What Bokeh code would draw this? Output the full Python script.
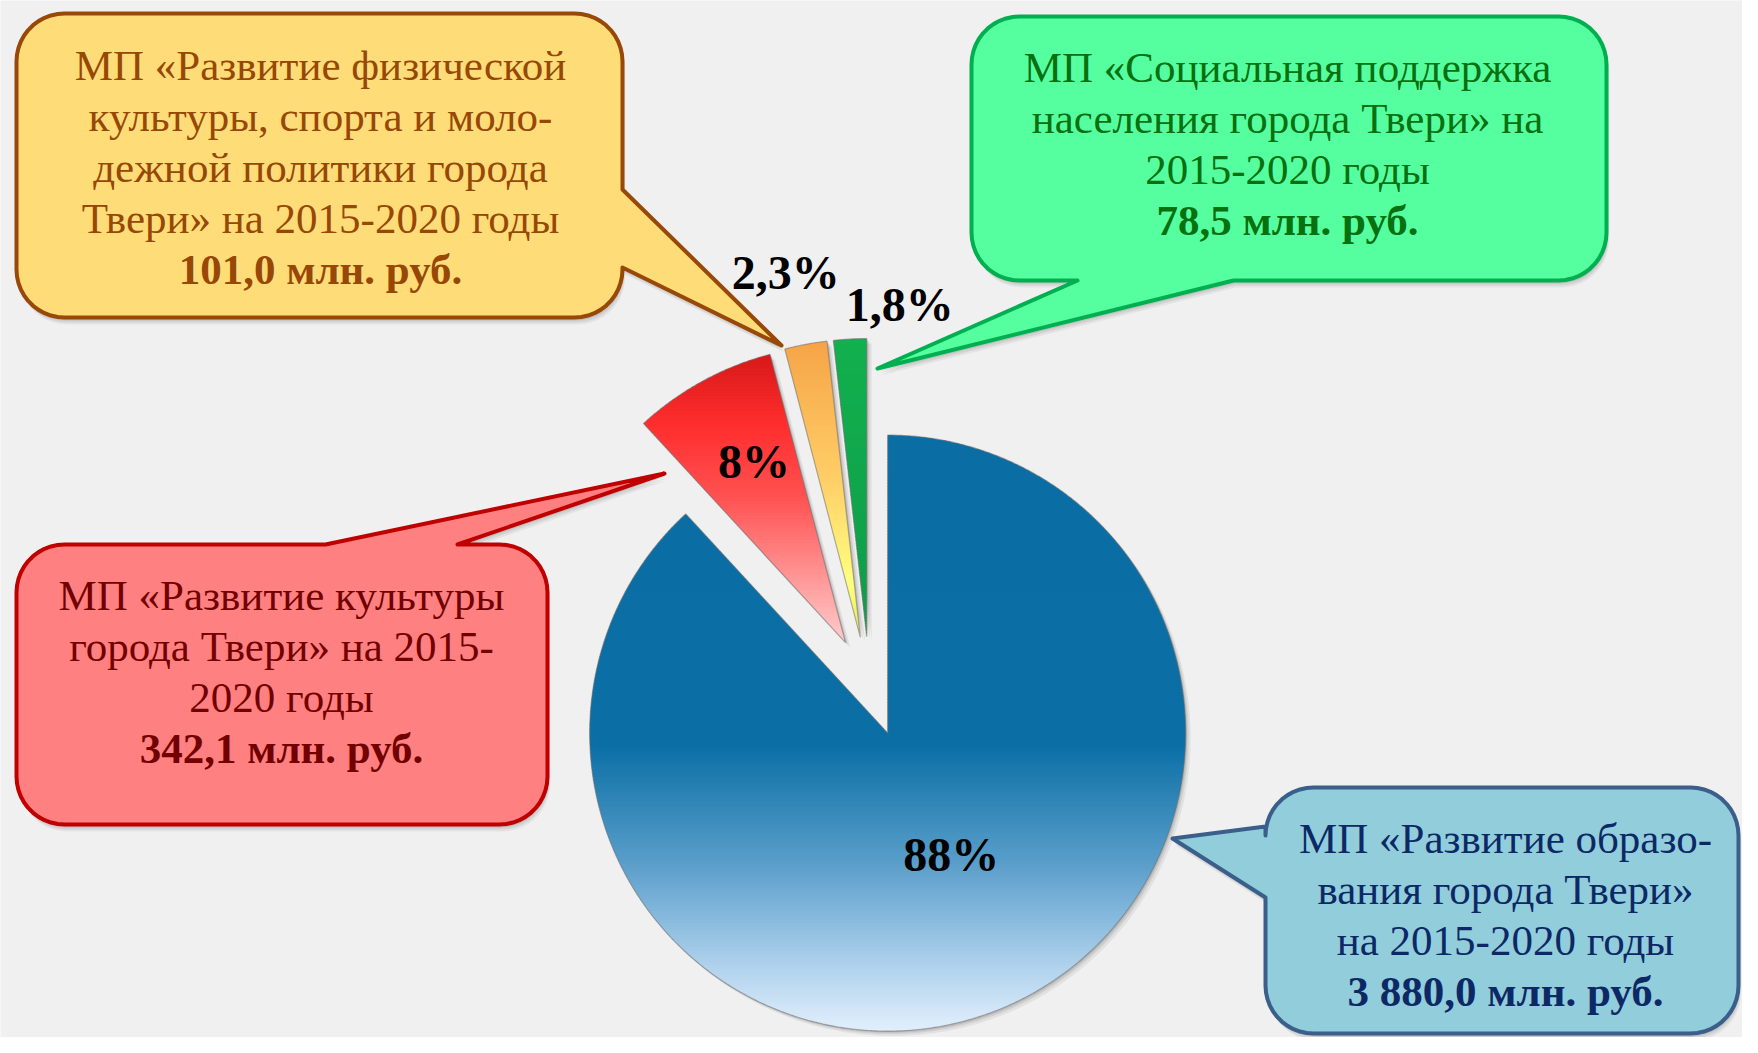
import numpy as np
from bokeh.plotting import figure
from bokeh.models import Range1d
from bokeh.core.properties import value
from bokeh.embed import file_html
from bokeh.resources import INLINE

# ---------------- data ----------------
programs = ["Образование", "Культура", "Физкультура и спорт", "Социальная поддержка"]
amounts = [3880.0, 342.1, 101.0, 78.5]          # млн. руб., 2015-2020
pct_labels = ["88%", "8%", "2,3%", "1,8%"]
callout_lines = [
    ["МП «Развитие образо-", "вания города Твери»", "на 2015-2020 годы", "3 880,0 млн. руб."],
    ["МП «Развитие культуры", "города Твери» на 2015-", "2020 годы", "342,1 млн. руб."],
    ["МП «Развитие физической", "культуры, спорта и моло-", "дежной политики города",
     "Твери» на 2015-2020 годы", "101,0 млн. руб."],
    ["МП «Социальная поддержка", "населения города Твери» на", "2015-2020 годы", "78,5 млн. руб."],
]

# ---------------- style ----------------
BG = "#f0f0f0"
W, H = 1742, 1037
CX, CY, R, EXPLODE = 869.0, 686.0, 298.0, 50.0
grad_stops = [
    [(0.0, "#0a6ea4"), (0.52, "#0b6fa5"), (0.72, "#5a9eca"), (0.9, "#b3d4ee"), (1.0, "#e2effc")],
    [(0.0, "#d81818"), (0.25, "#ff2e2e"), (0.5, "#ff5252"), (0.8, "#ff9c9c"), (1.0, "#ffcccc")],
    [(0.0, "#f5a447"), (0.45, "#ffcc66"), (0.82, "#ffff80"), (1.0, "#e6e65a")],
    [(0.0, "#12b04e"), (1.0, "#0e9c48")],
]
label_rfrac = [0.46, 0.68, 1.25, 1.12]
label_dtheta = [-6.3, 1.8, -1.0, 8.9]

box_fill = ["#92cddc", "#ff8080", "#fedd78", "#55ff9f"]
box_line = ["#3a5f8b", "#c00000", "#984807", "#00b050"]
text_col = ["#0c2966", "#720000", "#974806", "#07700f"]
# rect (x0, y0, x1, y1), tail (edge, a, b, tip)
boxes = [
    ((1265, 787, 1738, 1033), ("left", 826, 897, (1172, 838))),
    ((16, 544, 547, 824), ("top", 325, 457, (664, 473))),
    ((16, 13, 622, 317), ("right", 189, 267, (781, 345))),
    ((971, 16, 1606, 280), ("bottom", 1077, 1233, (877, 368))),
]
text_cx = [1505, 281, 320, 1287]
text_y0 = [838, 595, 65, 67]
LINE_H = 51
CORNER = 48

p = figure(width=W, height=H, output_backend="svg", toolbar_location=None,
           x_range=Range1d(0, W), y_range=Range1d(H, 0),
           x_axis_location=None, y_axis_location=None, min_border=0,
           background_fill_color=BG, border_fill_color=BG, outline_line_color=None)
p.grid.visible = False


def hex2rgb(h):
    h = h.lstrip("#")
    return np.array([int(h[i:i + 2], 16) for i in (0, 2, 4)], dtype=float)


def color_at(stops, t):
    t = min(max(t, 0.0), 1.0)
    for (t0, c0), (t1, c1) in zip(stops[:-1], stops[1:]):
        if t <= t1:
            f = 0 if t1 == t0 else (t - t0) / (t1 - t0)
            c = hex2rgb(c0) * (1 - f) + hex2rgb(c1) * f
            return "#%02x%02x%02x" % tuple(int(round(v)) for v in c)
    return stops[-1][1]


def clip_band(pts, ya, yb):
    def clip(pts, inside, yv):
        out = []
        for i in range(len(pts)):
            cur, prev = pts[i], pts[i - 1]
            def inter(a, b):
                t = (yv - a[1]) / (b[1] - a[1])
                return (a[0] + t * (b[0] - a[0]), yv)
            if inside(cur):
                if not inside(prev):
                    out.append(inter(prev, cur))
                out.append(cur)
            elif inside(prev):
                out.append(inter(prev, cur))
        return out
    pts = clip(pts, lambda q: q[1] >= ya, ya)
    if not pts:
        return []
    return clip(pts, lambda q: q[1] <= yb, yb)


def uvec(deg):
    a = np.radians(deg)
    return np.sin(a), -np.cos(a)


# ---------------- pie ----------------
vals = np.array(amounts)
fr = vals / vals.sum()
ends = np.cumsum(fr) * 360.0
starts = np.concatenate([[0.0], ends[:-1]])

for i in range(len(vals)):
    a0, a1 = starts[i], ends[i]
    mid = 0.5 * (a0 + a1)
    ux, uy = uvec(mid)
    ax, ay = CX + EXPLODE * ux, CY + EXPLODE * uy
    angs = np.linspace(a0, a1, max(8, int((a1 - a0) * 2)))
    xs = [ax] + [ax + R * np.sin(np.radians(a)) for a in angs]
    ys = [ay] + [ay - R * np.cos(np.radians(a)) for a in angs]
    pts = list(zip(xs, ys))
    # soft shadow
    for k, al in ((5, 0.06), (3, 0.08), (1.5, 0.1)):
        p.patch([x + k for x in xs], [y + k for y in ys], fill_color="#000000",
                fill_alpha=al, line_color=None)
    ymin, ymax = min(ys), max(ys)
    step = 3.0
    bxs, bys, bcols = [], [], []
    y = ymin
    while y < ymax:
        poly = clip_band(pts, y - 0.6, min(y + step + 0.6, ymax))
        if len(poly) >= 3:
            bxs.append([q[0] for q in poly])
            bys.append([q[1] for q in poly])
            bcols.append(color_at(grad_stops[i], (y + step / 2 - ymin) / (ymax - ymin)))
        y += step
    p.patches(bxs, bys, fill_color=bcols, line_color=None)
    p.patch(xs, ys, fill_color=None, line_color="#6f6f6f", line_alpha=0.55, line_width=1.2)
    # label
    lx, ly = uvec(mid + label_dtheta[i])
    p.text(x=[ax + label_rfrac[i] * R * lx], y=[ay + label_rfrac[i] * R * ly], text=[pct_labels[i]],
           text_font=value("Liberation Serif"), text_font_size="48px", text_font_style="bold",
           text_color="#000000", text_align="center", text_baseline="middle")


# ---------------- callouts ----------------
def arc(cx, cy, r, d0, d1, n=12):
    a = np.radians(np.linspace(d0, d1, n))
    return [(cx + r * np.cos(t), cy + r * np.sin(t)) for t in a]


def callout(rect, tail, r=CORNER):
    x0, y0, x1, y1 = rect
    edge, a, b, tip = tail
    pts = []
    pts.append((x0 + r, y0))
    if edge == "top":
        pts += [(a, y0), tip, (b, y0)]
    pts += arc(x1 - r, y0 + r, r, -90, 0)
    if edge == "right":
        pts += [(x1, a), tip, (x1, b)]
    pts += arc(x1 - r, y1 - r, r, 0, 90)
    if edge == "bottom":
        pts += [(b, y1), tip, (a, y1)]
    pts += arc(x0 + r, y1 - r, r, 90, 180)
    if edge == "left":
        pts += [(x0, b), tip, (x0, a)]
    pts += arc(x0 + r, y0 + r, r, 180, 270)
    return [q[0] for q in pts], [q[1] for q in pts]


for i in range(len(boxes)):
    rect, tail = boxes[i]
    xs, ys = callout(rect, tail)
    for k, al in ((7, 0.05), (5, 0.07), (3, 0.09)):
        p.patch([x + k * 0.4 for x in xs], [y + k for y in ys], fill_color="#000000",
                fill_alpha=al, line_color=None)
    p.patch(xs, ys, fill_color=box_fill[i], line_color=box_line[i], line_width=4,
            line_join="round")
    lines = callout_lines[i]
    n = len(lines)
    p.text(x=[text_cx[i]] * (n - 1), y=[text_y0[i] + k * LINE_H for k in range(n - 1)],
           text=lines[:-1], text_font=value("Liberation Serif"), text_font_size="43px",
           text_color=text_col[i], text_align="center", text_baseline="middle")
    p.text(x=[text_cx[i]], y=[text_y0[i] + (n - 1) * LINE_H], text=[lines[-1]],
           text_font=value("Liberation Serif"), text_font_size="43px", text_font_style="bold",
           text_color=text_col[i], text_align="center", text_baseline="middle")

open("out.html", "w").write(file_html(p, INLINE))
